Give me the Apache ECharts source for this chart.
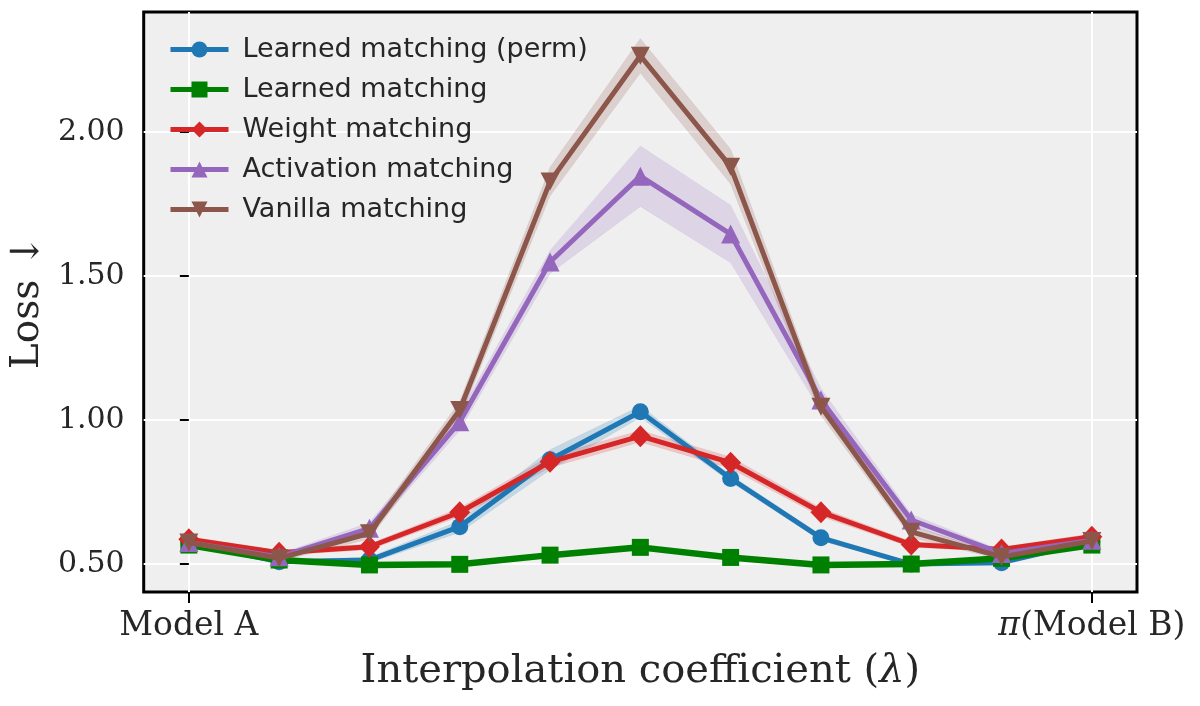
<!DOCTYPE HTML>
<html>
<head>
<meta charset="utf-8">
<title>Interpolation loss</title>
<script src="https://cdn.jsdelivr.net/npm/echarts@6/dist/echarts.min.js"></script>
<style>
  html, body { margin: 0; padding: 0; background: #fff; }
  #chart { width: 1200px; height: 706px; }
</style>
</head>
<body>
<div id="chart"></div>
<script>
// interpolation coefficient, 0 = Model A, 1 = pi(Model B)
var lambdas = [0, 0.1, 0.2, 0.3, 0.4, 0.5, 0.6, 0.7, 0.8, 0.9, 1.0];
var xTickLabels = ['Model A', '{i|π}(Model B)'];
var yTicks = [0.5, 1.0, 1.5, 2.0];

var names = ['Learned matching (perm)', 'Learned matching', 'Weight matching', 'Activation matching', 'Vanilla matching'];

// mean loss
var permMean = [0.575, 0.508, 0.514, 0.630, 0.862, 1.029, 0.797, 0.591, 0.500, 0.505, 0.578];
var learnedMean = [0.566, 0.514, 0.497, 0.499, 0.531, 0.558, 0.523, 0.497, 0.500, 0.520, 0.566];
var weightMean = [0.586, 0.539, 0.560, 0.680, 0.855, 0.944, 0.852, 0.680, 0.568, 0.551, 0.595];
var activMean = [0.575, 0.525, 0.624, 0.994, 1.549, 1.847, 1.646, 1.070, 0.653, 0.537, 0.583];
var vanillaMean = [0.575, 0.520, 0.607, 1.035, 1.828, 2.265, 1.880, 1.046, 0.612, 0.525, 0.580];

// spread of the shaded band (+/-)
var permStd = [0.010, 0.006, 0.010, 0.020, 0.035, 0.020, 0.012, 0.010, 0.006, 0.006, 0.010];
var learnedStd = [0.005, 0.004, 0.004, 0.004, 0.005, 0.006, 0.005, 0.004, 0.004, 0.004, 0.005];
var weightStd = [0.010, 0.008, 0.010, 0.015, 0.020, 0.020, 0.020, 0.015, 0.010, 0.008, 0.010];
var activStd = [0.010, 0.010, 0.020, 0.030, 0.040, 0.105, 0.100, 0.040, 0.020, 0.010, 0.010];
var vanillaStd = [0.010, 0.010, 0.020, 0.030, 0.050, 0.060, 0.060, 0.030, 0.020, 0.010, 0.010];

var colors = ['#1f77b4', '#008000', '#d62728', '#9467bd', '#8c564b'];
var symbols = ['circle', 'rect', 'diamond', 'triangle', 'path://M0,0 L10,0 L5,9 Z'];
var symbolSizes = [17, 17, [21, 22], 19, [19, 18]];
var lineWidths = [5, 6.5, 5, 5, 5];
var means = [permMean, learnedMean, weightMean, activMean, vanillaMean];
var stds = [permStd, learnedStd, weightStd, activStd, vanillaStd];

var chart = echarts.init(document.getElementById('chart'));

// shaded band drawn as one polygon through the chart's own coordinate system
function bandSeries(s) {
    var rows = [];
    for (var i = 0; i < lambdas.length; i++) {
        rows.push([lambdas[i], means[s][i] - stds[s][i], means[s][i] + stds[s][i]]);
    }
    return {
        type: 'custom', name: 'band_' + s, data: rows, silent: true, z: 1,
        encode: { x: 0, y: [1, 2] },
        renderItem: function (params, api) {
            if (params.dataIndex !== 0) return null;
            var pts = [];
            for (var i = 0; i < rows.length; i++) pts.push(api.coord([rows[i][0], rows[i][2]]));
            for (var i = rows.length - 1; i >= 0; i--) pts.push(api.coord([rows[i][0], rows[i][1]]));
            return {
                type: 'polygon',
                shape: { points: pts },
                style: { fill: colors[s], opacity: 0.2, stroke: colors[s], lineWidth: 1, strokeOpacity: 0.4 }
            };
        }
    };
}

var series = [];
for (var s = 0; s < names.length; s++) series.push(bandSeries(s));
for (var s = 0; s < names.length; s++) {
    var pts = [];
    for (var i = 0; i < lambdas.length; i++) pts.push([lambdas[i], means[s][i]]);
    series.push({
        type: 'line', name: names[s], data: pts, z: 3 + s,
        symbol: symbols[s], symbolSize: symbolSizes[s], showAllSymbol: true,
        color: colors[s],
        lineStyle: { color: colors[s], width: lineWidths[s] },
        itemStyle: { color: colors[s] }
    });
}

var option = {
    animation: false,
    backgroundColor: '#ffffff',
    grid: {
        left: 142, right: 63, top: 12, bottom: 114,
        show: true, backgroundColor: '#efefef',
        borderColor: '#000', borderWidth: 3
    },
    legend: {
        data: names,
        orient: 'vertical',
        left: 163, top: 31,
        itemWidth: 58, itemHeight: 20, itemGap: 13,
        lineStyle: { width: 5 },
        textStyle: { fontFamily: 'DejaVu Sans', fontSize: 27, color: '#262626', padding: [0, 0, 0, 9] }
    },
    xAxis: {
        type: 'value', min: -0.05, max: 1.05,
        name: 'Interpolation coefficient ({i|λ})',
        nameLocation: 'middle', nameGap: 60,
        nameTextStyle: {
            fontFamily: 'DejaVu Serif', fontSize: 40, color: '#262626',
            rich: { i: { fontFamily: 'DejaVu Serif', fontStyle: 'italic', fontSize: 40, color: '#262626' } }
        },
        axisLine: { show: false },
        axisTick: { show: true, customValues: [0, 1], length: 11, lineStyle: { color: '#000', width: 2 } },
        axisLabel: {
            customValues: [0, 1], margin: 18,
            fontFamily: 'DejaVu Serif', fontSize: 33, color: '#262626',
            formatter: function (v) { return v < 0.5 ? xTickLabels[0] : xTickLabels[1]; },
            rich: { i: { fontFamily: 'DejaVu Serif', fontStyle: 'italic', fontSize: 33, color: '#262626' } }
        },
        splitLine: { show: true, lineStyle: { color: '#ffffff', width: 2 } }
    },
    yAxis: {
        type: 'value', min: 0.403, max: 2.417,
        name: 'Loss ↓',
        nameLocation: 'middle', nameGap: 96, nameRotate: 90,
        nameTextStyle: { fontFamily: 'DejaVu Serif', fontSize: 39, color: '#262626' },
        axisLine: { show: false },
        axisTick: { show: true, customValues: yTicks, length: 9, lineStyle: { color: '#000', width: 2 } },
        axisLabel: {
            customValues: yTicks, margin: 19,
            fontFamily: 'DejaVu Serif', fontSize: 30, color: '#262626',
            formatter: function (v) { return v.toFixed(2); }
        },
        splitLine: { show: true, lineStyle: { color: '#ffffff', width: 2 } }
    },
    series: series
};
chart.setOption(option);
</script>
</body>
</html>
